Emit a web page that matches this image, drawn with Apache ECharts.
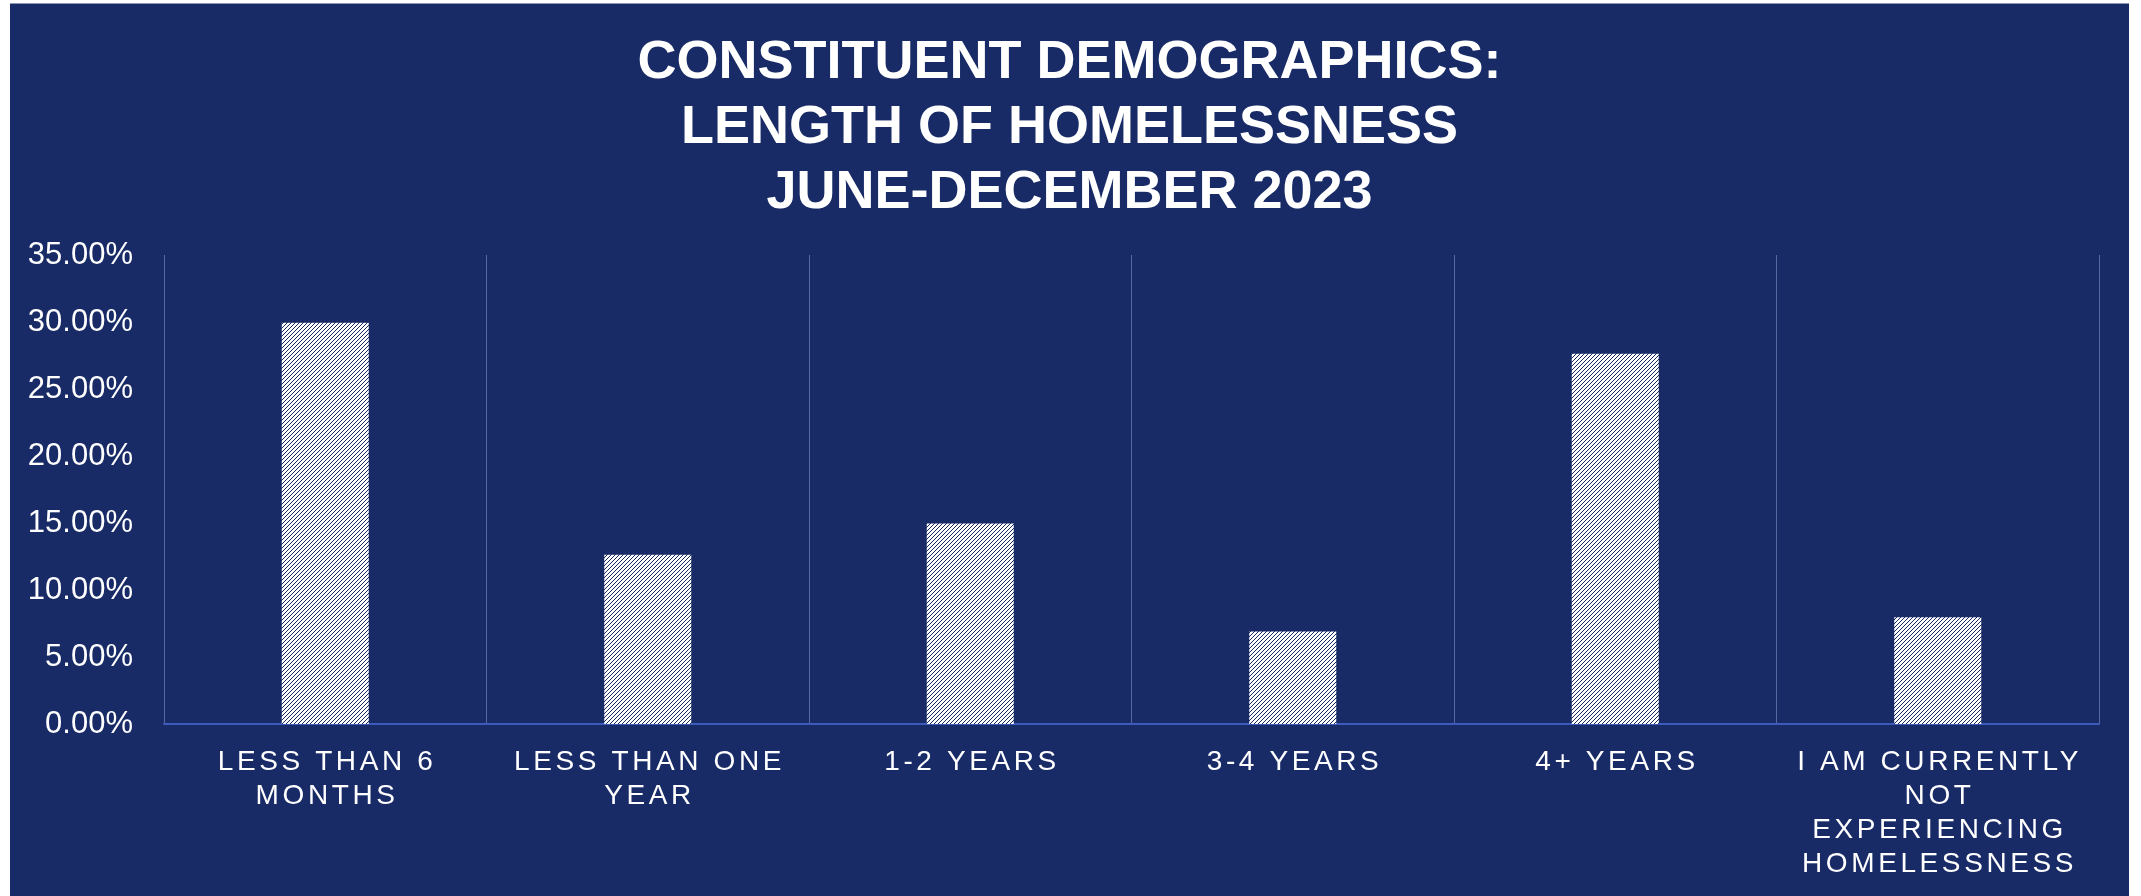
<!DOCTYPE html>
<html>
<head>
<meta charset="utf-8">
<script src="https://cdn.jsdelivr.net/npm/echarts@6/dist/echarts.min.js"></script>
<style>
  html, body { margin: 0; padding: 0; background: #ffffff; width: 2141px; height: 896px; overflow: hidden; }
  #chart { position: absolute; left: 10px; top: 3px; width: 2119px; height: 892px; border-top: 1px solid #8e96b4; }
</style>
</head>
<body>
<div id="chart"></div>
<script>
// ---- data ----
const titleLines = ['CONSTITUENT DEMOGRAPHICS:', 'LENGTH OF HOMELESSNESS', 'JUNE-DECEMBER 2023'];
const categories = [
  'LESS THAN 6\nMONTHS',
  'LESS THAN ONE\nYEAR',
  '1-2 YEARS',
  '3-4 YEARS',
  '4+ YEARS',
  'I AM CURRENTLY\nNOT\nEXPERIENCING\nHOMELESSNESS'
];
const values = [29.94, 12.63, 14.97, 6.91, 27.63, 7.97];
const yMin = 0, yMax = 35, yStep = 5;

// ---- letter spacing for category labels (canvas) ----
const XLABEL_SIZE = 28, XLABEL_SPACING = 3.6;
const _fillText = CanvasRenderingContext2D.prototype.fillText;
CanvasRenderingContext2D.prototype.fillText = function (t, x, y, w) {
  const spaced = new RegExp('\\b' + XLABEL_SIZE + 'px').test(this.font);
  if ('letterSpacing' in this) this.letterSpacing = spaced ? XLABEL_SPACING + 'px' : '0px';
  let dx = 0;
  if (spaced && this.textAlign === 'center') dx = XLABEL_SPACING / 2;
  return w === undefined ? _fillText.call(this, t, x + dx, y) : _fillText.call(this, t, x + dx, y, w);
};

// ---- hatch pattern ----
const NAVY = '#182b67';
function makeHatch() {
  const c = document.createElement('canvas');
  c.width = 4; c.height = 4;
  const g = c.getContext('2d');
  g.fillStyle = '#ffffff';
  g.fillRect(0, 0, 4, 4);
  g.fillStyle = NAVY;
  for (let i = 0; i < 4; i++) g.fillRect(3 - i, i, 1, 1);
  return c;
}

const FONT = '"Liberation Sans", Arial, Helvetica, sans-serif';
const chart = echarts.init(document.getElementById('chart'), null, { renderer: 'canvas' });
chart.setOption({
  backgroundColor: NAVY,
  animation: false,
  title: {
    text: titleLines.join('\n'),
    left: 'center',
    top: 22,
    textStyle: { color: '#ffffff', fontFamily: FONT, fontWeight: 'bold', fontSize: 54, lineHeight: 65 }
  },
  grid: { left: 154, right: 30, top: 251, bottom: 172, containLabel: false, outerBoundsMode: 'none' },
  xAxis: {
    type: 'category',
    data: categories,
    axisTick: { show: false },
    axisLine: { show: true, lineStyle: { color: '#3b5bbd', width: 2 } },
    splitLine: { show: true, lineStyle: { color: '#56689e', width: 1 } },
    axisLabel: { color: '#ffffff', fontFamily: FONT, fontSize: XLABEL_SIZE, lineHeight: 34, margin: 21, interval: 0 }
  },
  yAxis: {
    type: 'value',
    min: yMin, max: yMax, interval: yStep,
    axisLine: { show: false },
    axisTick: { show: false },
    splitLine: { show: false },
    axisLabel: { color: '#ffffff', fontFamily: FONT, fontSize: 31, margin: 31, formatter: v => v.toFixed(2) + '%' }
  },
  series: [{
    type: 'bar',
    data: values,
    barWidth: 87,
    itemStyle: { color: { image: makeHatch(), repeat: 'repeat' } }
  }]
});
</script>
</body>
</html>
